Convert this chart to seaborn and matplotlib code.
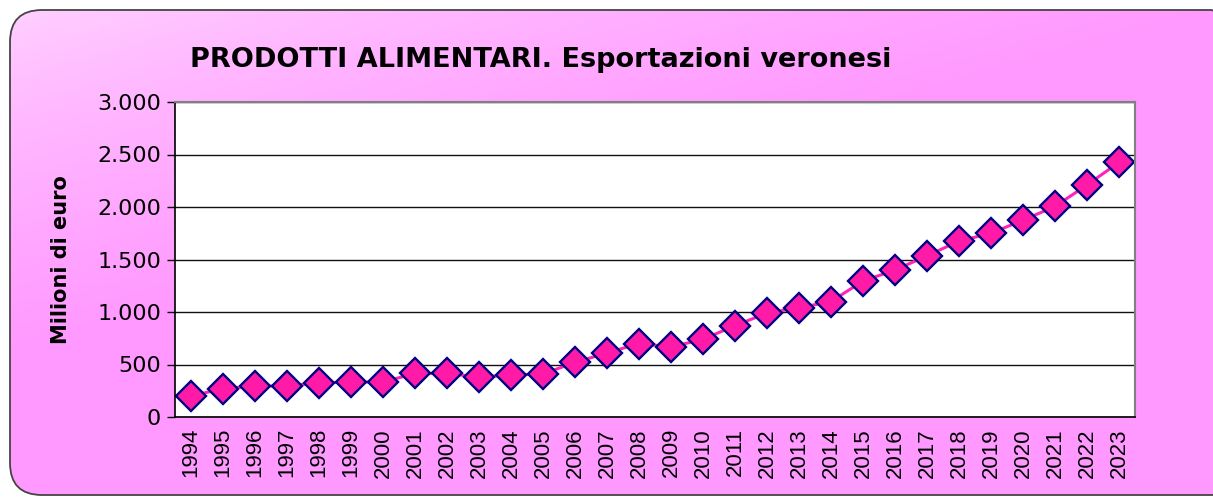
import numpy as np
import pandas as pd
import matplotlib
matplotlib.use("Agg")
import matplotlib.pyplot as plt
from matplotlib.patches import FancyBboxPatch
from matplotlib import font_manager
import seaborn as sns

# data
anni = [str(a) for a in range(1994, 2024)]
export_mln = [200, 270, 295, 295, 325, 333, 333, 415, 415, 380,
              400, 410, 520, 610, 700, 667, 740, 870, 990, 1040,
              1100, 1295, 1400, 1535, 1675, 1750, 1875, 2005, 2210, 2425]
y_ticks = [0, 500, 1000, 1500, 2000, 2500, 3000]
y_labels = ["0", "500", "1.000", "1.500", "2.000", "2.500", "3.000"]

df = pd.DataFrame({"anno": anni, "valore": export_mln})
df["pos"] = np.arange(len(df))

sns.set_theme(style="white")
plt.rcParams["font.family"] = ["DejaVu Sans"]
plt.rcParams["text.color"] = "black"
plt.rcParams["xtick.color"] = "black"
plt.rcParams["ytick.color"] = "black"
plt.rcParams["axes.labelcolor"] = "black"

# year labels in the original look narrow and tall
installed = {f.name for f in font_manager.fontManager.ttflist}
if "Liberation Sans Narrow" in installed:
    year_font, year_size = "Liberation Sans Narrow", 18
else:
    year_font, year_size = "Liberation Sans", 16

W, H = 1213, 497
fig = plt.figure(figsize=(W / 100, H / 100), dpi=100)
fig.patch.set_facecolor("white")

# rounded pink panel with soft gradient (runs off the right edge)
bg = fig.add_axes([0, 0, 1, 1])
bg.set_xlim(0, W)
bg.set_ylim(0, H)
bg.axis("off")
xx, yy = np.meshgrid(np.linspace(0, 1, 300), np.linspace(0, 1, 120))
t = np.clip((xx * 1.0 + yy * 1.4) / 1.0, 0, 1) ** 0.7
light = np.array([255, 214, 255]) / 255
dark = np.array([255, 153, 255]) / 255
img = light[None, None, :] * (1 - t[..., None]) + dark[None, None, :] * t[..., None]
panel = FancyBboxPatch((10, 2), W + 20, H - 12, boxstyle="round,pad=0,rounding_size=32",
                       facecolor="none", edgecolor="#444444", linewidth=1.3, zorder=3)
bg.add_patch(panel)
im = bg.imshow(img, extent=[0, W + 40, 0, H], origin="upper", aspect="auto")
im.set_clip_path(panel)

ax = fig.add_axes([175 / W, 1 - 417 / H, (1135 - 175) / W, (417 - 102) / H])
ax.set_facecolor("white")
sns.lineplot(data=df, x="pos", y="valore", ax=ax, color="#FF22BB", linewidth=2.2,
             marker="D", markersize=15, markerfacecolor="#FF1AA8",
             markeredgecolor="#000080", markeredgewidth=1.7)

ax.set_xlim(-0.5, len(anni) - 0.5)
ax.set_ylim(0, 3000)
ax.set_yticks(y_ticks)
ax.set_yticklabels(y_labels, fontsize=16)
ax.yaxis.grid(True, color="#111111", linewidth=1)
ax.set_axisbelow(True)
ax.set_xticks(np.arange(len(anni)))
ax.set_xticklabels(anni, rotation=90, fontsize=year_size, family=year_font)
ax.set_xticks(np.arange(-0.5, len(anni)), minor=True)
ax.tick_params(axis="x", which="major", length=0, pad=8)
ax.tick_params(axis="x", which="minor", length=6, width=1, color="black", direction="out")
ax.tick_params(axis="y", length=6, width=1, color="black", direction="out", left=True, pad=4)
for side in ["left", "bottom"]:
    ax.spines[side].set_color("black")
    ax.spines[side].set_linewidth(1.2)
for side in ["top", "right"]:
    ax.spines[side].set_color("#808080")
    ax.spines[side].set_linewidth(1.5)
ax.set_xlabel("")
ax.set_ylabel("Milioni di euro", fontsize=15, fontweight="bold", labelpad=19)

fig.text(541 / W, 1 - 60 / H, "PRODOTTI ALIMENTARI. Esportazioni veronesi",
         ha="center", va="center", fontsize=19.5, fontweight="bold")

fig.savefig("out.png", dpi=100)
